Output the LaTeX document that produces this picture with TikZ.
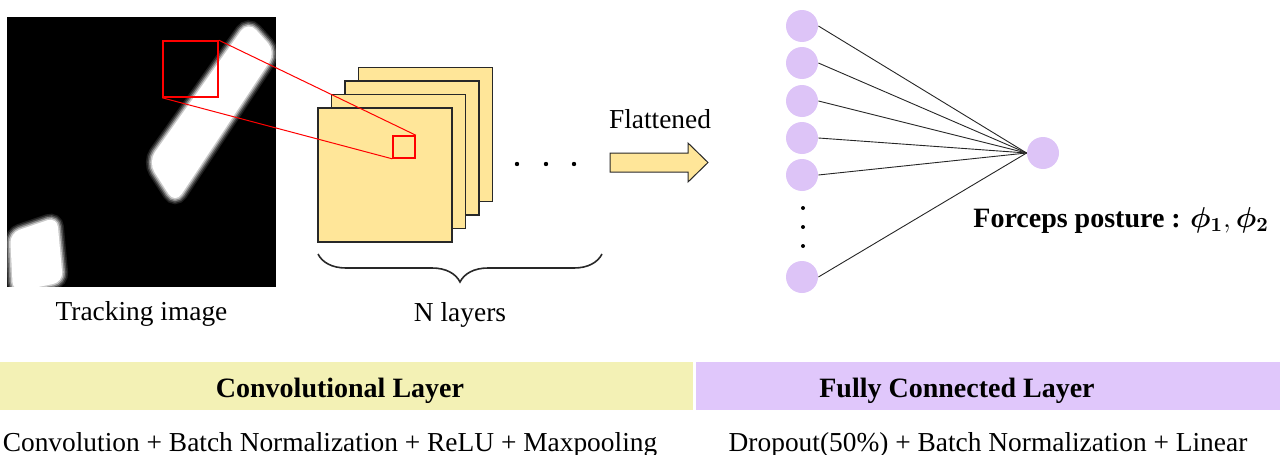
\documentclass[tikz,border=0pt]{standalone}
\usepackage{fontspec}
\usepackage{amsmath,bm}
\setmainfont{Liberation Serif}
\usetikzlibrary{positioning, decorations.pathreplacing}
\definecolor{mapYellow}{RGB}{255,230,153}
\definecolor{barYellow}{RGB}{243,241,181}
\definecolor{barPurple}{RGB}{224,199,251}
\definecolor{nodePurple}{RGB}{221,196,247}
\definecolor{edgeInk}{RGB}{40,40,40}

\begin{document}
\begin{tikzpicture}[x=0.5pt, y=-0.5pt,
      txt/.style={font=\fontsize{13.7pt}{16pt}\selectfont, inner sep=0pt},
      bold/.style={txt, font=\fontsize{14pt}{16pt}\selectfont\bfseries},
      fmap/.style={draw=edgeInk, line width=0.9pt, fill=mapYellow, minimum size=67pt, inner sep=0pt},
      zoombox/.style={draw=red, line width=0.8pt, inner sep=0pt},
      neuron/.style={circle, fill=nodePurple, minimum size=16pt, inner sep=0pt},
      dot/.style={circle, fill=black, minimum size=2.2pt, inner sep=0pt},
      link/.style={draw=black!85, line width=0.45pt},
      bar/.style={minimum height=24pt, inner sep=0pt}
    ]
    \useasboundingbox (0,0) rectangle (1280,455);

    % tracking image
    \node[fill=black, minimum width=134.5pt, minimum height=135pt, inner sep=0pt] (img) at (141.5,152) {};
    \begin{scope}
      \clip (img.north west) rectangle (img.south east);
      \foreach \w/\o in {6/0.12, 4.5/0.2, 3/0.35, 1.5/0.55} {
        \draw[white, line width=\w pt, rounded corners=6pt, opacity=\o]
          (248,21) -- (276,52) -- (175,204) -- (148,162) -- cycle;
        \draw[white, line width=\w pt, rounded corners=5pt, opacity=\o]
          (10,233) -- (57,217) -- (63,282) -- (13,292) -- cycle;
      }
      \fill[white, rounded corners=6pt] (248,21) -- (276,52) -- (175,204) -- (148,162) -- cycle;
      \fill[white, rounded corners=5pt] (10,233) -- (57,217) -- (63,282) -- (13,292) -- cycle;
    \end{scope}
    \node[zoombox, minimum width=27.5pt, minimum height=28pt] (roi) at (190.5,69) {};
    \node[txt, anchor=base] (imgcap) at (141.5,320) {Tracking image};

    % feature maps
    \foreach \i in {3,2,1,0}
      \node[fmap] (map\i) at (385+13.5*\i,175-13.5*\i) {};
    \node[zoombox, minimum size=11pt] (kernel) at (404,147) {};
    \draw[red, line width=0.5pt] (roi.north east) -- (kernel.north east);
    \draw[red, line width=0.5pt] (roi.south west) -- (kernel.south west);
    \foreach \x [count=\k] in {517,546,574}
      \node[dot] (hdot\k) at (\x,164) {};
    \draw[edgeInk, line width=0.8pt, decorate, decoration={brace, mirror, amplitude=14pt}]
      (318,254) -- (602,254);
    \node[txt, anchor=base] (ncap) at (460,321) {N layers};

    % flatten arrow
    \node[txt, anchor=base] (flat) at (660,128) {Flattened};
    \draw[edgeInk, line width=0.5pt, fill=mapYellow]
      (610,153) -- (688,153) -- (688,143) -- (708,162.5) -- (688,182) -- (688,172) -- (610,172) -- cycle;

    % fully connected part
    \foreach \y [count=\i] in {26,63,101,138,175,277}
      \node[neuron] (in\i) at (802,\y) {};
    \node[neuron] (out) at (1043,153) {};
    \foreach \i in {1,...,6}
      \draw[link] (in\i.east) -- (out.west);
    \foreach \y [count=\k] in {208,227,246}
      \node[dot, minimum size=2pt] (vdot\k) at (803,\y) {};
    \node[bold, anchor=base west] (posture) at (973,227)
      {Forceps posture : $\bm{\phi_1},\bm{\phi_2}$};

    % bottom bars
    \node[bar, fill=barYellow, minimum width=346.5pt] (convbar) at (346.5,386) {};
    \node[bar, fill=barPurple, minimum width=292pt] (fcbar) at (988,386) {};
    \node[bold, anchor=base] (convtitle) at (340,397) {Convolutional Layer};
    \node[bold, anchor=base] (fctitle) at (957,397) {Fully Connected Layer};
    \node[txt, anchor=base] (convops) at (330,451) {Convolution + Batch Normalization + ReLU + Maxpooling};
    \node[txt, anchor=base] (fcops) at (988,451) {Dropout(50\%) + Batch Normalization + Linear};
  \end{tikzpicture}
\end{document}
